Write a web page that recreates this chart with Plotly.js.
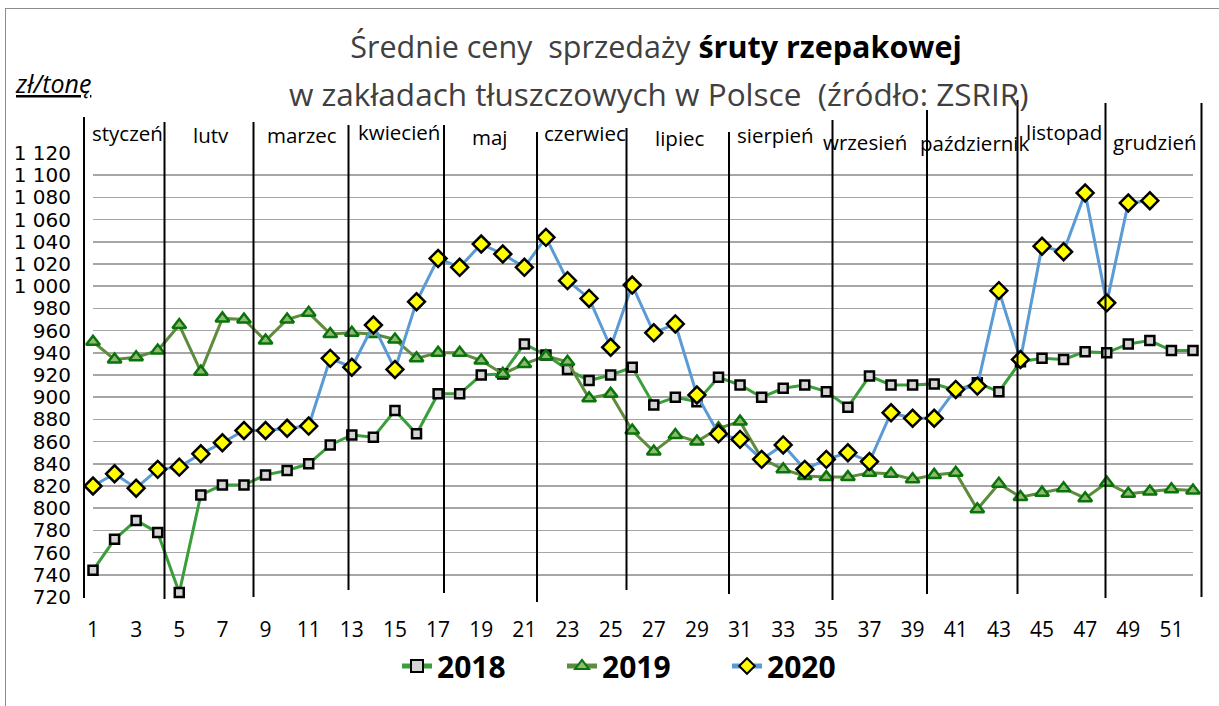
<!DOCTYPE html>
<html>
<head>
<meta charset="utf-8">
<script src="https://cdn.plot.ly/plotly-3.0.1.min.js"></script>
<style>
  html, body { margin: 0; padding: 0; background: #fff; }
  #wrap { position: relative; width: 1219px; height: 706px; overflow: hidden; }
  #chart { width: 1219px; height: 706px; }
  #frame { position: absolute; left: 5px; top: 8px; width: 1240px; height: 720px;
           border: 1.5px solid #8c8c8c; pointer-events: none; }
</style>
</head>
<body>
<div id="wrap"><div id="chart"></div><div id="frame"></div></div>
<script>
// ---------------- DATA ----------------
const weeks = [1,2,3,4,5,6,7,8,9,10,11,12,13,14,15,16,17,18,19,20,21,22,23,24,25,26,
               27,28,29,30,31,32,33,34,35,36,37,38,39,40,41,42,43,44,45,46,47,48,49,50,51,52];
const seriesNames = ['2018', '2019', '2020'];
const y2018 = [744,772,789,778,724,812,821,821,830,834,840,857,866,864,888,867,903,903,920,921,
               948,938,925,915,920,927,893,900,896,918,911,900,908,911,905,891,919,911,911,912,
               906,913,905,932,935,934,941,940,948,951,942,942];
const y2019 = [950,934,936,942,965,923,971,970,951,970,976,957,958,957,952,935,940,940,933,921,
               930,937,932,899,903,870,851,866,860,872,878,845,835,829,828,828,832,831,826,830,
               832,799,822,810,814,818,809,823,813,815,817,816];
const y2020 = [820,831,818,835,837,849,859,870,870,872,874,935,927,965,925,986,1025,1017,1038,1029,
               1017,1044,1005,989,945,1001,958,966,902,867,862,844,857,835,844,850,842,886,881,881,
               907,910,996,934,1036,1031,1084,985,1075,1077];
const monthNames = ['styczeń','lutv','marzec','kwiecień','maj','czerwiec','lipiec','sierpień',
                    'wrzesień','październik','listopad','grudzień'];
const yTickValues = [720,740,760,780,800,820,840,860,880,900,920,940,960,980,1000,1020,1040,1060,1080,1100,1120];
const xTickValues = [1,3,5,7,9,11,13,15,17,19,21,23,25,27,29,31,33,35,37,39,41,43,45,47,49,51];

// ---------------- LAYOUT HELPERS (positions, not data) ----------------
const W = 1219, H = 706;
const M = { l: 93, r: 26, t: 153, b: 109 };
const plotW = W - M.l - M.r, plotH = H - M.t - M.b;
const px2paperX = px => (px - M.l) / plotW;
const px2paperY = py => (H - M.b - py) / plotH;

// month separator lines: [x px, top px, bottom px]
const sepLines = [[84,117,598],[164.5,122,599],[253.5,122,597],[348.5,125,590],[444,125,593],
                  [537,132,602],[626.5,128,590],[729,132,594],[832.5,120,600],[927,110,594],
                  [1017.5,100,594],[1105.5,103,598],[1201.5,103,597]];
// month label centres [x px, y px]
const labelPos = [[127,133],[210.5,135],[302,135],[399,132],[490,137],[584.5,133],[680,138],
                  [776,135],[864.5,142],[975,143],[1064,132],[1155,142]];

const shapes = sepLines.map(s => ({
  type: 'line', xref: 'paper', yref: 'paper',
  x0: px2paperX(s[0]), x1: px2paperX(s[0]),
  y0: px2paperY(s[2]), y1: px2paperY(s[1]),
  line: { color: '#000', width: 2 }, layer: 'above'
}));

const annotations = monthNames.map((m, i) => ({
  text: m, xref: 'paper', yref: 'paper',
  x: px2paperX(labelPos[i][0]), y: px2paperY(labelPos[i][1]),
  xanchor: 'center', yanchor: 'middle', showarrow: false,
  font: { family: 'Open Sans', size: 20.5, color: '#000' }
}));
annotations.push({
  text: 'w zakładach tłuszczowych w Polsce&nbsp; (źródło: ZSRIR)',
  xref: 'paper', yref: 'paper', x: px2paperX(658), y: px2paperY(94),
  xanchor: 'center', yanchor: 'middle', showarrow: false,
  font: { family: 'Open Sans', size: 31.5, color: '#404040' }
});
annotations.push({
  text: '<span style="text-decoration:underline">zł/tonę</span>',
  xref: 'paper', yref: 'paper', x: px2paperX(13), y: px2paperY(83),
  xanchor: 'left', yanchor: 'middle', showarrow: false,
  font: { family: 'Open Sans', size: 25, color: '#000', style: 'italic' }
});

const traces = [
  { x: weeks, y: y2018, name: seriesNames[0], type: 'scatter', mode: 'lines+markers', cliponaxis: false,
    line: { color: '#3a9e3a', width: 3 },
    marker: { symbol: 'square', size: 9, color: '#d4d4d4', line: { color: '#000', width: 2.5 } } },
  { x: weeks, y: y2019, name: seriesNames[1], type: 'scatter', mode: 'lines+markers', cliponaxis: false,
    line: { color: '#5e8c3c', width: 3 },
    marker: { symbol: 'triangle-up', size: 12, color: '#8fba72', line: { color: '#0a740a', width: 2.5 } } },
  { x: weeks.slice(0, y2020.length), y: y2020, name: seriesNames[2], type: 'scatter', mode: 'lines+markers', cliponaxis: false,
    line: { color: '#5b9bd5', width: 3 },
    marker: { symbol: 'diamond', size: 13, color: '#ffff00', line: { color: '#000', width: 2.5 } } }
];

const layout = {
  width: W, height: H,
  margin: M,
  paper_bgcolor: '#fff', plot_bgcolor: '#fff',
  separators: ', ',
  showlegend: true,
  title: {
    text: 'Średnie ceny&nbsp; sprzedaży <span style="font-weight:bold;color:#000">śruty rzepakowej</span>',
    xref: 'container', yref: 'container', x: 656 / W, y: 1 - 47 / H,
    xanchor: 'center', yanchor: 'middle',
    font: { family: 'Open Sans', size: 30.5, color: '#404040' }
  },
  xaxis: {
    range: [1, 52], tickvals: xTickValues, ticktext: xTickValues.map(String),
    showgrid: false, zeroline: false, showline: false, ticks: '',
    ticklabelstandoff: 18,
    tickfont: { family: 'Open Sans', size: 21, color: '#000' }
  },
  yaxis: {
    range: [720, 1120], tickvals: yTickValues, tickformat: ',d',
    showgrid: true, gridcolor: '#a6a6a6', gridwidth: 1.5,
    zeroline: false, showline: false, ticks: '',
    ticklabelstandoff: 21,
    tickfont: { family: 'DejaVu Sans', size: 20, color: '#000' }
  },
  legend: {
    orientation: 'h', xref: 'paper', yref: 'paper',
    x: px2paperX(397), xanchor: 'left', y: px2paperY(666), yanchor: 'middle',
    font: { family: 'Open Sans', size: 30, color: '#000', weight: 'bold' },
    entrywidth: 120, entrywidthmode: 'pixels', bgcolor: 'rgba(0,0,0,0)',
    itemsizing: 'constant'
  },
  shapes: shapes,
  annotations: annotations
};

Plotly.newPlot('chart', traces, layout, { displayModeBar: false, staticPlot: true });
</script>
</body>
</html>
